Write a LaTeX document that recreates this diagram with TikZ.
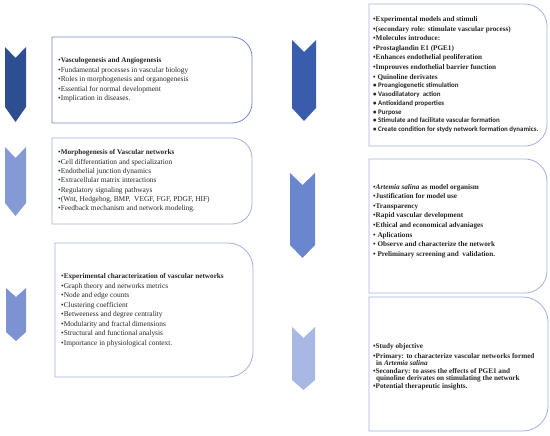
\documentclass[tikz,border=0pt]{standalone}
\usepackage{fontspec}
\newfontfamily\carl{Carlito}
\newfontfamily\tms{Liberation Serif}
\definecolor{cA}{HTML}{2E4E92}
\definecolor{cB}{HTML}{8599D5}
\definecolor{cC}{HTML}{7D93D1}
\definecolor{cD}{HTML}{3A5CAD}
\definecolor{cE}{HTML}{6A87CD}
\definecolor{cF}{HTML}{A9B7E4}
\definecolor{bdA}{HTML}{7489C8}
\definecolor{bdB}{HTML}{A3B3E2}
\definecolor{txt}{HTML}{262626}
\newcommand{\hb}[1]{{\bfseries\fontsize{7.2}{8}\selectfont #1}}
\tikzset{
  boxline/.style={line width=0.8pt},
  ln/.style={anchor=base west, inner sep=0pt, text=txt, font=\fontsize{7.4}{8}\selectfont\tms},
  lnb/.style={ln, font=\fontsize{7.2}{8}\selectfont\tms\bfseries},
  lns/.style={ln, font=\fontsize{6.9}{8}\selectfont\carl\bfseries},
}
% x1 y1 x2 y2 r colour
\newcommand{\rbox}[6]{%
  \draw[boxline,draw=#6] (#1,#2) -- ({#3-#5},#2)
    .. controls ({#3-0.448*#5},#2) and (#3,{#2+0.448*#5}) .. (#3,{#2+#5})
    -- (#3,{#4-#5})
    .. controls (#3,{#4-0.448*#5}) and ({#3-0.448*#5},#4) .. ({#3-#5},#4)
    -- (#1,#4) -- cycle;}
% x1 x2 top notch sidebottom point colour
\newcommand{\chev}[7]{%
  \fill[#7] (#1,#3) -- ({(#1+#2)/2},#4) -- (#2,#3) -- (#2,#5)
    -- ({(#1+#2)/2},#6) -- (#1,#5) -- cycle;}
\begin{document}
\begin{tikzpicture}[x=1pt,y=-1pt]
\useasboundingbox (0,0) rectangle (550,436);
\fill[white] (0,0) rectangle (550,436);
% chevrons
\chev{5}{26}{47}{58}{107}{122}{cA}
\chev{5}{26}{147}{158}{203}{216}{cB}
\chev{6}{26}{288}{297}{332}{341}{cC}
\chev{292}{316}{40}{52}{108}{121}{cD}
\chev{290}{315}{173}{185}{245}{258}{cE}
\chev{292}{315}{327}{338}{380}{390}{cF}
% boxes
\rbox{52}{37}{252}{123}{20}{bdA}
\rbox{52}{138}{252}{224}{20}{bdB}
\rbox{55}{243}{253}{377}{25}{bdB}
\rbox{369}{4}{547}{146}{22}{bdB}
\rbox{369}{159}{547}{293}{22}{bdB}
\rbox{369}{297}{548}{431}{25}{bdB}
% box 1
\foreach [count=\i] \t in {{\hb{Vasculogenesis and Angiogenesis}},
  Fundamental processes in vascular biology,
  Roles in morphogenesis and organogenesis,
  Essential for normal development,
  Implication in diseases.}
  \node[ln] (a\i) at (58,{63+9.5*(\i-1)}) {\textbullet\t};
% box 2
\foreach [count=\i] \t in {{\hb{Morphogenesis of Vascular networks}},
  Cell differentiation and specialization,
  Endothelial junction dynamics,
  Extracellular matrix interactions,
  Regulatory signaling pathways,
  {(Wnt, Hedgehog, BMP,\ \ VEGF, FGF, PDGF, HIF)},
  Feedback mechanism and network modeling.}
  \node[ln] (b\i) at (58,{155+9.33*(\i-1)}) {\textbullet\t};
% box 3
\foreach [count=\i] \t in {{\hb{Experimental characterization of vascular networks}},
  Graph theory and networks metrics,
  Node and edge counts,
  Clustering coefficient,
  Betweeness and degree centrality,
  Modularity and fractal dimensions,
  Structural and functional analysis,
  Importance in physiological context.}
  \node[ln] (c\i) at (61,{279+9.43*(\i-1)}) {\textbullet\t};
% box 4
\foreach [count=\i] \t in {Experimental models and stimuli,
  (secondary role: stimulate vascular process),
  Molecules introduce:,
  Prostaglandin E1 (PGE1),
  Enhances endothelial peoliferation,
  Improuves endothelial barrier function,
  {\ Quinoline derivates}}
  \node[lnb] (d\i) at (373,{21.5+9.6*(\i-1)}) {\textbullet\t};
\foreach [count=\i] \t in {Proangiogenetic stimulation,
  Vasodilatatory\ \ action,
  Antioxidand properties,
  Purpose,
  Stimulate and facilitate vascular formation,
  Create condition for stydy network formation dynamics.}
  \node[lns] (e\i) at (373,{87.7+8.8*(\i-1)}) {\textbullet\ \t};
% box 5
\foreach [count=\i] \t in {{\textit{Artemia salina} as model organism},
  Justification for model use,
  Transparency,
  Rapid vascular development,
  Ethical and economical advaniages,
  {\ Aplications},
  {\ Observe and characterize the network},
  {\ Preliminary screening and\ \ validation.}}
  \node[lnb] (f\i) at (373,{189.5+9.5*(\i-1)}) {\textbullet\t};
% box 6
\node[lnb] (g1) at (373,348.5) {\textbullet Study objective};
\node[lnb] (g2) at (373,358.5) {\textbullet Primary: to characterize vascular networks formed};
\node[lnb] (g3) at (376,365) {in \textit{Artemia salina}};
\node[lnb] (g4) at (373,373.5) {\textbullet Secondary: to asses the effects of PGE1 and};
\node[lnb] (g5) at (376,380) {quinoline derivates on stimulating the network};
\node[lnb] (g6) at (373,388.5) {\textbullet Potential therapeutic insights.};
\end{tikzpicture}
\end{document}
